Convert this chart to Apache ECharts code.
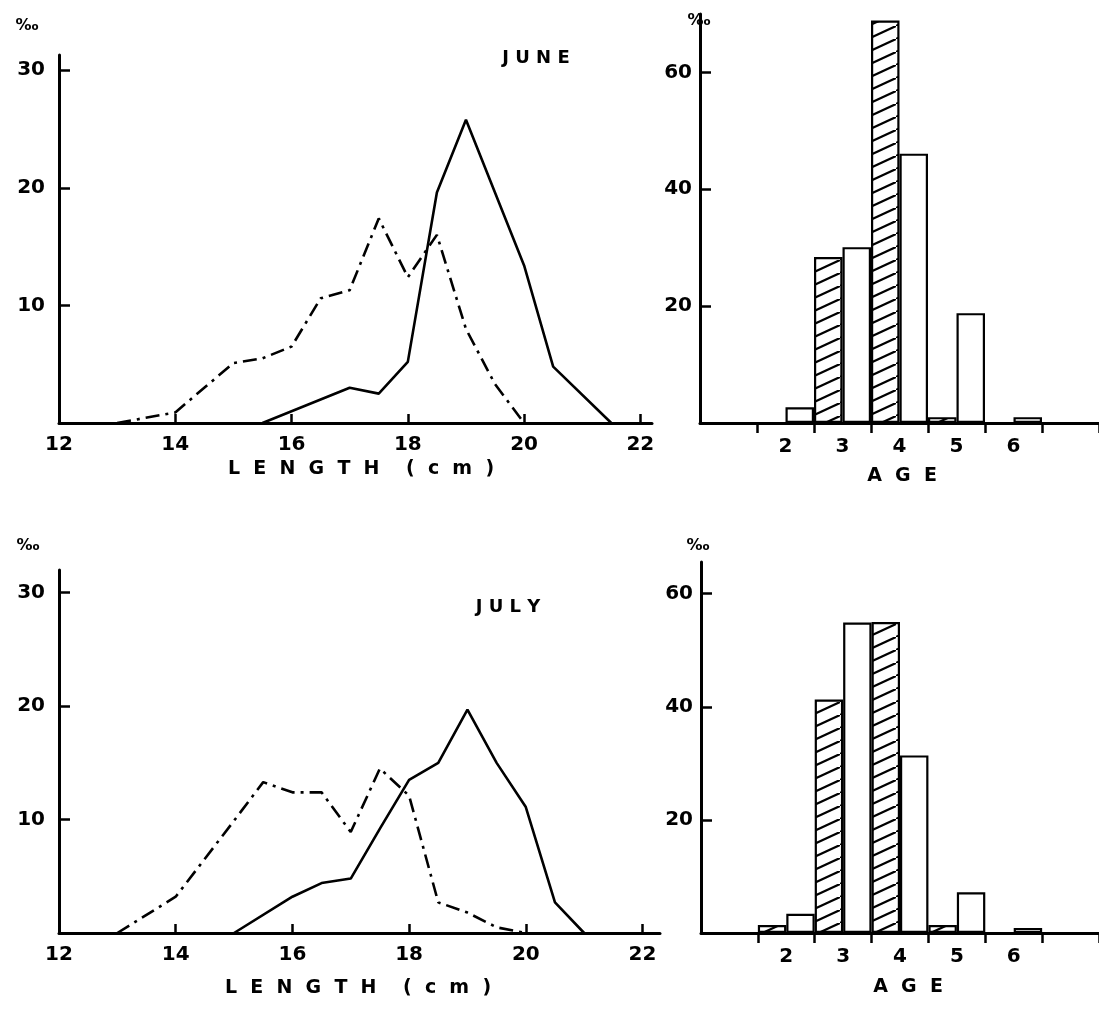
<!DOCTYPE html>
<html lang="en">
<head>
<meta charset="UTF-8">
<title>Length and age frequency, June / July</title>
<script src="https://cdn.jsdelivr.net/npm/echarts@6/dist/echarts.min.js"></script>
<style>
    html, body { margin: 0; padding: 0; background: #fff; }
    #main { width: 1099px; height: 1019px; }
</style>
</head>
<body>
<div id="main"></div>
<script>
// ---- data: length frequency (%), x = length class (cm) ----
var juneSolidLen = [15.5, 17, 17.5, 18, 18.5, 19, 20, 20.5, 21.5];
var juneSolidPct = [0, 3.0, 2.5, 5.2, 19.6, 25.8, 13.4, 4.8, 0];
var juneDashLen  = [13, 14, 15, 15.5, 16, 16.5, 17, 17.5, 18, 18.5, 19, 19.5, 20];
var juneDashPct  = [0, 0.9, 5.1, 5.5, 6.5, 10.6, 11.3, 17.4, 12.4, 16.0, 8.0, 3.3, 0];

var julySolidLen = [15, 16, 16.5, 17, 17.5, 18, 18.5, 19, 19.5, 20, 20.5, 21];
var julySolidPct = [0, 3.2, 4.4, 4.8, 9.2, 13.5, 15.0, 19.7, 15.0, 11.1, 2.7, 0];
var julyDashLen  = [13, 14, 15, 15.5, 16, 16.5, 17, 17.5, 18, 18.5, 19, 19.5, 20];
var julyDashPct  = [0, 3.2, 9.9, 13.3, 12.4, 12.4, 8.9, 14.5, 12.1, 2.7, 1.8, 0.5, 0];

// ---- data: age composition (%) ----
var ageCats = ['', '2', '3', '4', '5', '6', ''];
var juneHatched = [0, 0, 28.4, 68.9, 1.0, 0, 0];
var juneOpen    = [0, 2.7, 30.1, 46.1, 18.8, 1.0, 0];
var julyHatched = [0, 1.4, 41.3, 55.0, 1.4, 0, 0];
var julyOpen    = [0, 3.4, 54.9, 31.4, 7.2, 0.9, 0];

// tick labels
var lenTicks = [12, 14, 16, 18, 20, 22];
var lenPctTicks = [10, 20, 30];
var agePctTicks = [20, 40, 60];

function pairs(xs, ys) {
    return xs.map(function (x, i) { return [x, ys[i]]; });
}

var FONT = 'DejaVu Sans';
var labelStyle = { color: '#000', fontFamily: FONT, fontWeight: 'bold', fontSize: 20 };

// diagonal hatch pattern for the shaded bars
var hatch = document.createElement('canvas');
hatch.width = 28; hatch.height = 13;
var hc = hatch.getContext('2d');
hc.fillStyle = '#fff';
hc.fillRect(0, 0, 28, 13);
hc.strokeStyle = '#000';
hc.lineWidth = 2.2;
hc.beginPath();
hc.moveTo(-28, 26);
hc.lineTo(56, -13);
hc.stroke();

function lenX(grid, max) {
    return {
        type: 'value', gridIndex: grid, min: 12, max: max,
        axisLine: { show: true, onZero: false, lineStyle: { color: '#000', width: 3 } },
        axisTick: { show: true, inside: true, length: 9, customValues: lenTicks.slice(1), lineStyle: { color: '#000', width: 2.5 } },
        axisLabel: Object.assign({ margin: 12, customValues: lenTicks }, labelStyle),
        splitLine: { show: false }
    };
}
function pctY(grid, max, ticks, margin) {
    return {
        type: 'value', gridIndex: grid, min: 0, max: max,
        axisLine: { show: true, onZero: false, lineStyle: { color: '#000', width: 3 } },
        axisTick: { show: true, inside: true, length: 11, customValues: ticks, lineStyle: { color: '#000', width: 2.5 } },
        axisLabel: Object.assign({ margin: margin, customValues: ticks }, labelStyle),
        splitLine: { show: false }
    };
}
function ageX(grid) {
    return {
        type: 'category', gridIndex: grid, data: ageCats, boundaryGap: true,
        axisLine: { show: true, onZero: false, lineStyle: { color: '#000', width: 3 } },
        axisTick: {
            show: true, length: 10, lineStyle: { color: '#000', width: 2.5 },
            interval: function (i) { return i !== 0; }
        },
        axisLabel: Object.assign({ margin: 14, interval: 0 }, labelStyle),
        splitLine: { show: false }
    };
}
function lineSeries(grid, data, dashed) {
    return {
        type: 'line', xAxisIndex: grid, yAxisIndex: grid, data: data,
        symbol: 'none', silent: true,
        lineStyle: { color: '#000', width: 2.6, type: dashed ? [14, 6, 3, 6] : 'solid' }
    };
}
function barSeries(grid, data, shaded) {
    return {
        type: 'bar', xAxisIndex: grid, yAxisIndex: grid, data: data,
        barGap: '0%', barCategoryGap: '0%', silent: true,
        itemStyle: {
            color: shaded ? { image: hatch, repeat: 'repeat' } : '#fff',
            borderColor: '#000', borderWidth: 2.2
        }
    };
}
function txt(x, y, s, size) {
    return {
        type: 'text', x: x, y: y, silent: true,
        style: { text: s, fill: '#000', font: 'bold ' + size + 'px "' + FONT + '"', textAlign: 'center', textVerticalAlign: 'middle' }
    };
}

var myChart = echarts.init(document.getElementById('main'), null, { renderer: 'canvas' });

var option = {
    backgroundColor: '#fff',
    animation: false,
    grid: [
        { left: 59, top: 55, width: 593, height: 368 },
        { left: 700, top: 14, width: 406, height: 409 },
        { left: 59, top: 570, width: 601, height: 363 },
        { left: 701, top: 562, width: 406, height: 371 }
    ],
    xAxis: [lenX(0, 22.2), ageX(1), lenX(2, 22.3), ageX(3)],
    yAxis: [
        pctY(0, 31.3, lenPctTicks, 14),
        pctY(1, 70, agePctTicks, 8),
        pctY(2, 32, lenPctTicks, 14),
        pctY(3, 65.6, agePctTicks, 8)
    ],
    series: [
        lineSeries(0, pairs(juneSolidLen, juneSolidPct), false),
        lineSeries(0, pairs(juneDashLen, juneDashPct), true),
        barSeries(1, juneHatched, true),
        barSeries(1, juneOpen, false),
        lineSeries(2, pairs(julySolidLen, julySolidPct), false),
        lineSeries(2, pairs(julyDashLen, julyDashPct), true),
        barSeries(3, julyHatched, true),
        barSeries(3, julyOpen, false)
    ],
    graphic: [
        txt(27, 26, '‰', 16),
        txt(699, 21, '‰', 16),
        txt(28, 546, '‰', 16),
        txt(698, 546, '‰', 16),
        txt(536, 58, 'J U N E', 18),
        txt(508, 607, 'J U L Y', 18),
        txt(361, 469, 'L  E  N  G  T  H    (  c  m  )', 19),
        txt(358, 988, 'L  E  N  G  T  H    (  c  m  )', 19),
        txt(902, 476, 'A  G  E', 19),
        txt(908, 987, 'A  G  E', 19)
    ]
};
myChart.setOption(option);
</script>
</body>
</html>
